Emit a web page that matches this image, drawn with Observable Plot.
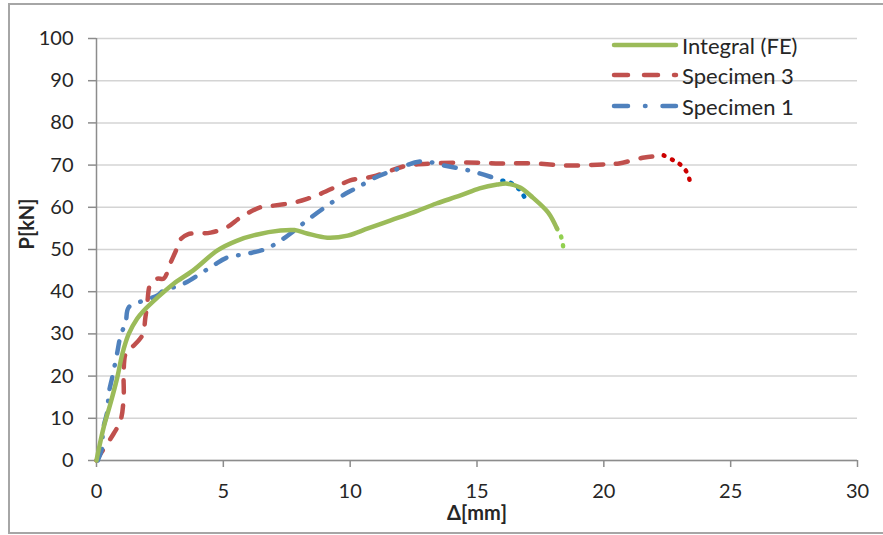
<!DOCTYPE html>
<html><head><meta charset="utf-8">
<script src="https://cdn.jsdelivr.net/npm/d3@7"></script>
<script src="https://cdn.jsdelivr.net/npm/@observablehq/plot@0.6"></script>
<style>
html,body{margin:0;padding:0;background:#fff;overflow:hidden;}
#wrap{position:relative;width:883px;height:535px;overflow:hidden;}
#border{position:absolute;left:8px;top:3px;width:900px;height:531px;border:2px solid #a6a6a6;box-sizing:border-box;pointer-events:none;}
.lg{position:absolute;left:611px;height:30px;display:flex;align-items:center;font-family:Lato,sans-serif;font-size:22px;color:#262626;white-space:nowrap;}
.lg svg{margin-right:3px;}
</style></head>
<body>
<div id="wrap"><div id="border"></div></div>
<script>
// Tick values
const xTicks = [0, 5, 10, 15, 20, 25, 30];
const yTicks = [0, 10, 20, 30, 40, 50, 60, 70, 80, 90, 100];

// Integral (FE)
const feX = [0, 0.08, 0.28, 0.55, 0.82, 1.02, 1.27, 1.6, 1.86, 2.4, 3.04, 3.8, 4.77, 5.5, 6.3, 7.25, 7.8, 8.3, 9.1, 9.9, 10.7, 11.6, 12.5, 13.4, 14.35, 15.1, 15.8, 16.2, 16.7, 17.2, 17.8, 18.15];
const feY = [0, 2.4, 7.8, 13.5, 19.7, 25.3, 30, 33.6, 35.5, 38.6, 41.9, 45, 49.8, 52, 53.5, 54.5, 54.6, 53.8, 52.8, 53.3, 55, 56.9, 58.8, 60.9, 62.8, 64.5, 65.4, 65.6, 64.7, 62.3, 58.8, 55];
const feTailX = [18.15, 18.33, 18.4];
const feTailY = [55, 52.8, 50.5];

// Specimen 3
const s3X = [0, 0.16, 0.68, 0.95, 1.07, 1.07, 1.15, 1.34, 1.8, 1.93, 2.0, 2.13, 2.4, 2.65, 2.9, 3.15, 3.3, 3.6, 4.1, 4.5, 5.15, 5.68, 6.46, 6.98, 7.77, 8.3, 8.83, 9.6, 10.0, 10.9, 11.6, 12.25, 13.3, 14.6, 15.9, 17.2, 18.6, 20.1, 20.6, 21.6, 22.36];
const s3Y = [0, 1.6, 6.4, 9.5, 15, 21, 25.3, 26.5, 29.6, 34, 37.2, 41.9, 43.1, 43.1, 46.6, 50, 52.3, 53.6, 53.8, 54, 55.3, 57.6, 60, 60.4, 61.1, 62, 63.2, 65.3, 66.4, 67.3, 68.7, 69.9, 70.4, 70.6, 70.4, 70.4, 69.9, 70.2, 70.4, 71.8, 72.3];
const s3TailX = [22.36, 22.75, 23.06, 23.3, 23.4];
const s3TailY = [72.3, 71.1, 69.9, 68, 65.9];

// Specimen 1
const s1X = [0.05, 0.23, 0.25, 0.43, 0.48, 0.62, 0.81, 0.95, 1.15, 1.27, 1.86, 2.4, 2.65, 3.37, 4.1, 4.6, 5.15, 5.95, 6.7, 7.25, 7.8, 8.3, 9.1, 9.9, 10.3, 10.9, 11.7, 12.8, 13.7, 14.7, 15.6, 16.0];
const s1Y = [0, 3.1, 7.1, 11.8, 15.8, 19.7, 25.3, 29.6, 32.7, 36.3, 37.9, 39.1, 40.3, 41.7, 44.3, 46.2, 48.1, 49, 50.2, 52.1, 54.5, 56.9, 60.4, 63.5, 64.7, 66.8, 68.7, 70.9, 69.9, 68.7, 67.1, 66.3];
const s1TailX = [16.0, 16.3, 16.7, 16.9];
const s1TailY = [66.3, 65.9, 64, 62.1];

const series = ["Integral (FE)", "Specimen 3", "Specimen 1"];
const colors = ["#9BBB59", "#C0504D", "#4F81BD"];
const tailColors = ["#92D050", "#CC0000", "#0070C0"];
const dashes = [null, "12,13", "12,12,0.5,12"];

const toRows = (xs, ys) => xs.map((x, i) => ({x, y: ys[i]}));
const mains = [toRows(feX, feY), toRows(s3X, s3Y), toRows(s1X, s1Y)];
const tails = [toRows(feTailX, feTailY), toRows(s3TailX, s3TailY), toRows(s1TailX, s1TailY)];

const marks = [
  Plot.gridY(yTicks, {stroke: "#d4d4d4", strokeOpacity: 1, strokeWidth: 1.5}),
  Plot.ruleY([0], {stroke: "#8c8c8c", strokeWidth: 1.5}),
  Plot.ruleX([0], {stroke: "#8c8c8c", strokeWidth: 1.5}),
  Plot.axisX(xTicks, {tickSize: 7, tickPadding: 16, stroke: "#8c8c8c", strokeWidth: 1.5, fill: "#262626", fontSize: 20, tickFormat: d => d, label: null}),
  Plot.axisY(yTicks, {tickSize: 8, tickPadding: 15, stroke: "#8c8c8c", strokeWidth: 1.5, fill: "#262626", fontSize: 20, tickFormat: d => d, label: null}),
  Plot.text(["P[kN]"], {frameAnchor: "left", dx: -69, rotate: -90, fontWeight: "bold", fontSize: 20, fill: "#262626"}),
  Plot.text(["Δ[mm]"], {frameAnchor: "bottom", dy: 59, fontWeight: "bold", fontSize: 20, fill: "#262626"})
];
[1, 2, 0].forEach(k => {
  marks.push(Plot.line(tails[k], {x: "x", y: "y", stroke: tailColors[k], strokeWidth: 4.5, strokeDasharray: "1,8", strokeLinecap: "round", curve: "catmull-rom"}));
  marks.push(Plot.line(mains[k], {x: "x", y: "y", stroke: colors[k], strokeWidth: 4.5, strokeDasharray: dashes[k], strokeLinecap: "round", curve: "catmull-rom"}));
});

const chart = Plot.plot({
  width: 883, height: 535,
  marginLeft: 96, marginRight: 26, marginTop: 38, marginBottom: 75,
  x: {domain: [0, 30]},
  y: {domain: [0, 100]},
  style: {fontFamily: "Lato, sans-serif", fontSize: "20px", background: "white", color: "#262626"},
  marks
});
const wrap = document.getElementById("wrap");
wrap.insertBefore(chart, wrap.firstChild);

// Legend
const centers = [45, 75, 106];
series.forEach((name, k) => {
  const row = document.createElement("div");
  row.className = "lg";
  row.style.top = (centers[k] - 15) + "px";
  const dash = dashes[k] ? `stroke-dasharray="${k === 1 ? "14,16" : "14,17,0.5,17"}"` : "";
  row.innerHTML = `<svg width="68" height="10"><line x1="3" y1="5" x2="65" y2="5" stroke="${colors[k]}" stroke-width="4.5" stroke-linecap="round" ${dash}/></svg><span>${name}</span>`;
  wrap.appendChild(row);
});
</script>
</body></html>
